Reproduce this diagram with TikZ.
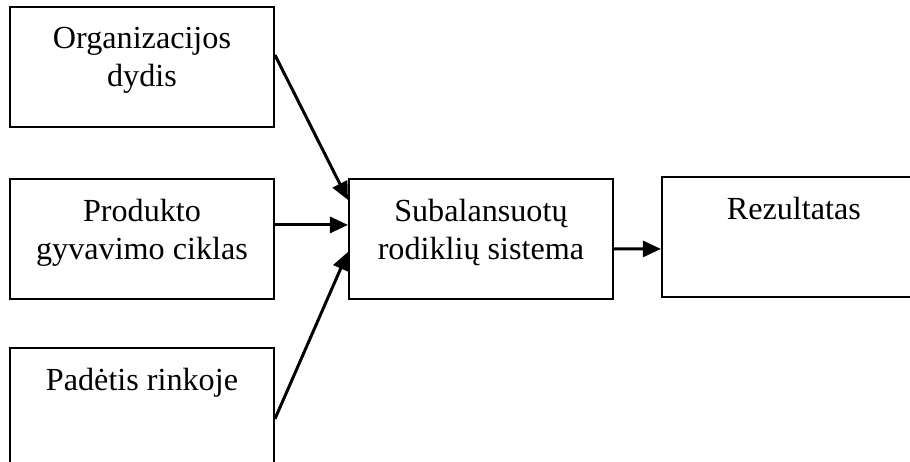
\documentclass[tikz,border=0pt]{standalone}
\usepackage{fontspec}
\setmainfont{Liberation Serif}
\usetikzlibrary{positioning,calc,arrows.meta}

\begin{document}
\begin{tikzpicture}[
    box/.style={draw, line width=1.1pt, minimum width=5.28cm, minimum height=2.4cm, inner sep=0pt},
    txt/.style={align=center, inner sep=0pt, font=\fontsize{18.3}{21.5}\selectfont},
    arr/.style={line width=1.7pt, -{Triangle[length=0.36cm,width=0.32cm]}}
]
    \useasboundingbox (0,0) rectangle (18.2,-9.24);
    \clip (0,0) rectangle (18.2,-9.24);

    % Factors
    \node[box] (org) at (2.84,-1.34) {};
    \node[box, below=1cm of org] (prod) {};
    \node[box, below=0.94cm of prod] (rink) {};
    \node[txt, below=0.42cm of org.north] (orgtxt) {Organizacijos\\dydis};
    \node[txt, below=0.42cm of prod.north] (prodtxt) {Produkto\\gyvavimo ciklas};
    \node[txt, below=0.42cm of rink.north] (rinktxt) {Padėtis rinkoje};

    % Scorecard and result
    \node[box, right=1.46cm of prod] (bsc) {};
    \node[box, right=0.94cm of bsc, yshift=0.04cm] (rez) {};
    \node[txt, below=0.42cm of bsc.north] (bsctxt) {Subalansuotų\\rodiklių sistema};
    \node[txt, below=0.42cm of rez.north] (reztxt) {Rezultatas};

    % Arrows
    \draw[arr] ($(org.east)+(0,0.24)$) -- ($(bsc.west)+(0,0.78)$);
    \draw[arr] ($(prod.east)+(0,0.28)$) -- ($(bsc.west)+(0,0.28)$);
    \draw[arr] ($(rink.east)+(0,-0.22)$) -- ($(bsc.west)+(0,-0.26)$);
    \draw[arr] ($(bsc.east)+(0,-0.2)$) -- ($(rez.west)+(0,-0.24)$);
\end{tikzpicture}
\end{document}
